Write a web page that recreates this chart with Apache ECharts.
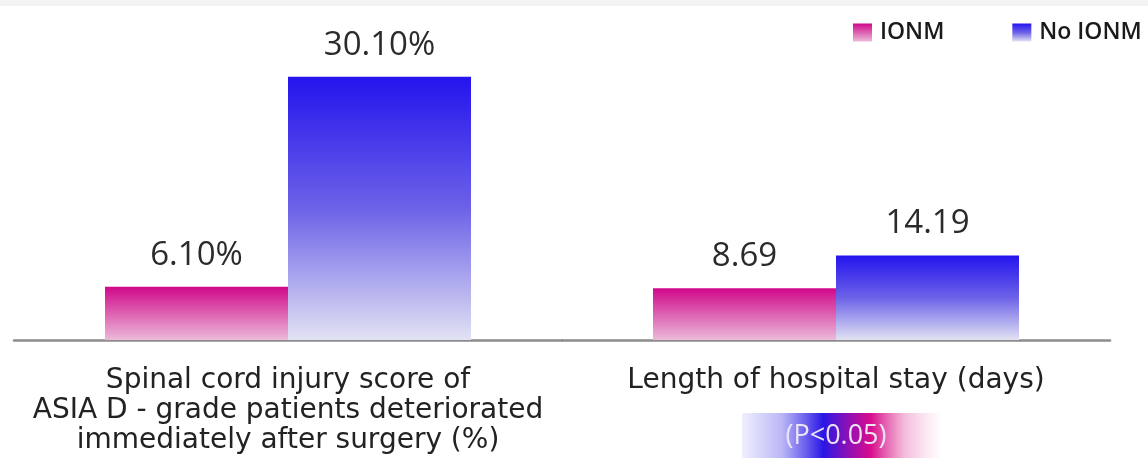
<!DOCTYPE html>
<html>
<head>
<meta charset="utf-8">
<script src="https://cdn.jsdelivr.net/npm/echarts@6/dist/echarts.min.js"></script>
<style>
  html, body { margin: 0; padding: 0; background: #ffffff; }
  #chart { width: 1148px; height: 464px; }
</style>
</head>
<body>
<div id="chart"></div>
<script>
// Outcome categories (each drawn on its own value scale)
const categories = [
  'Spinal cord injury score of\nASIA D - grade patients deteriorated\nimmediately after surgery (%)',
  'Length of hospital stay (days)'
];
const seriesNames = ['IONM', 'No IONM'];
const ionmValues = [6.10, 8.69];
const noIonmValues = [30.10, 14.19];
const valueSuffix = ['%', ''];
const axisMax = [32, 47];
const pValueText = '(P<0.05)';

const FONT = '"Open Sans", "Noto Sans", sans-serif';
const AXIS_FONT = '"DejaVu Sans", "Open Sans", sans-serif';

function vGrad(top, bottom) {
  return new echarts.graphic.LinearGradient(0, 0, 0, 1, [
    { offset: 0, color: top },
    { offset: 1, color: bottom }
  ]);
}
const pinkFill = vGrad('#d0088a', '#ebbad9');
const blueFill = new echarts.graphic.LinearGradient(0, 0, 0, 1, [
  { offset: 0, color: '#2414ee' },
  { offset: 0.5, color: '#6c62e8' },
  { offset: 1, color: '#e2e2f3' }
]);

const grids = [
  { left: 14, width: 548, top: 60, bottom: 124 },
  { left: 562, width: 548, top: 60, bottom: 124 }
];

const xAxes = categories.map((c, i) => ({
  type: 'category',
  gridIndex: i,
  data: [c],
  axisLine: { show: true, lineStyle: { color: '#8c8c8c', width: 2.5 } },
  axisTick: { show: false },
  axisLabel: {
    margin: 26,
    fontFamily: AXIS_FONT,
    fontSize: 28,
    lineHeight: 30,
    color: '#222222',
    interval: 0
  }
}));

const yAxes = categories.map((c, i) => ({
  type: 'value',
  gridIndex: i,
  min: 0,
  max: axisMax[i],
  show: false,
  splitLine: { show: false }
}));

function makeSeries(name, values, fill) {
  return values.map((v, i) => ({
    name: name,
    type: 'bar',
    xAxisIndex: i,
    yAxisIndex: i,
    data: [v],
    barWidth: 183,
    barGap: '0%',
    itemStyle: { color: fill },
    label: {
      show: true,
      position: 'top',
      distance: 15,
      fontFamily: FONT,
      fontSize: 33,
      color: '#2b2b2b',
      formatter: p => p.value.toFixed(2) + valueSuffix[i]
    }
  }));
}

const series = [
  ...makeSeries(seriesNames[0], ionmValues, pinkFill),
  ...makeSeries(seriesNames[1], noIonmValues, blueFill)
].sort((a, b) => a.xAxisIndex - b.xAxisIndex);

const chart = echarts.init(document.getElementById('chart'), null, { renderer: 'canvas' });
chart.setOption({
  animation: false,
  backgroundColor: '#ffffff',
  grid: grids,
  xAxis: xAxes,
  yAxis: yAxes,
  legend: {
    data: seriesNames,
    orient: 'horizontal',
    left: 848,
    top: 16,
    itemWidth: 19,
    itemHeight: 18,
    itemGap: 68,
    icon: 'rect',
    textStyle: {
      fontFamily: FONT,
      fontSize: 23,
      fontWeight: 600,
      color: '#1a1a1a',
      padding: [0, 0, 0, 3]
    }
  },
  graphic: [
    {
      type: 'rect',
      silent: true,
      shape: { x: 0, y: 0, width: 1148, height: 6 },
      style: { fill: '#f3f3f3' }
    },
    {
      type: 'group',
      left: 742,
      top: 413,
      children: [
        {
          type: 'rect',
          shape: { x: 0, y: 0, width: 198, height: 45 },
          style: {
            fill: new echarts.graphic.LinearGradient(0, 0, 1, 0, [
              { offset: 0, color: 'rgba(60,50,230,0.08)' },
              { offset: 0.2, color: 'rgba(60,50,230,0.35)' },
              { offset: 0.41, color: '#2a16e6' },
              { offset: 0.53, color: '#8a10b8' },
              { offset: 0.65, color: '#d80c8c' },
              { offset: 0.82, color: 'rgba(220,60,150,0.35)' },
              { offset: 1, color: 'rgba(230,120,180,0.02)' }
            ])
          }
        },
        {
          type: 'text',
          x: 94,
          y: 23,
          style: {
            text: pValueText,
            fontFamily: FONT,
            fontSize: 27,
            fill: '#ebe4f6',
            align: 'center',
            verticalAlign: 'middle'
          }
        }
      ]
    }
  ],
  series: series
});
</script>
</body>
</html>
